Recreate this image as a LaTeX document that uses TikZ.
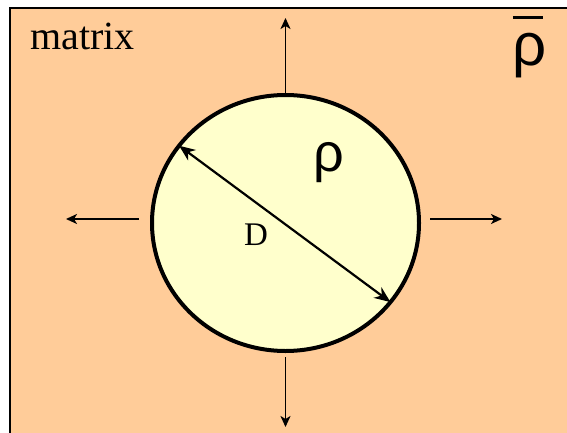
\documentclass[tikz,border=0pt]{standalone}
\usepackage{fontspec}
\setmainfont{Liberation Serif}
\newfontfamily\sansrho{Liberation Sans}
\usetikzlibrary{arrows.meta,shapes.geometric}
\definecolor{matrixfill}{HTML}{FFCC99}
\definecolor{inclfill}{HTML}{FFFFCC}
\tikzset{
  outarrow/.style={line width=1.8pt,-{Stealth[length=11pt,width=10pt,inset=3pt]}},
  diamarrow/.style={line width=2.2pt,{Stealth[length=16pt,width=13pt,inset=5pt]}-{Stealth[length=16pt,width=13pt,inset=5pt]}},
}
\begin{document}
\begin{tikzpicture}[x=1pt,y=-1pt]
\useasboundingbox (0,0) rectangle (567,433);
\clip (0,0) rectangle (567,433);
\draw[line width=2.5pt, fill=matrixfill] (10,8) rectangle (600,460);
\node[draw, line width=4pt, fill=inclfill, ellipse, minimum width=267pt, minimum height=256pt, inner sep=0pt] (c) at (285.5,223) {};
\node[anchor=base west, font=\fontsize{40}{44}\selectfont, inner sep=0pt] (mx) at (30,50) {matrix};
\node[anchor=base, font=\sansrho\fontsize{60}{64}\selectfont, inner sep=0pt] (rb) at (530,66) {\rlap{\raisebox{0.78em}{\rule{0.5em}{0.045em}}}ρ};
\node[anchor=base, font=\sansrho\fontsize{54}{58}\selectfont, inner sep=0pt] (r) at (329,171) {ρ};
\node[anchor=base, font=\fontsize{33}{36}\selectfont, inner sep=0pt] (d) at (256,245) {D};
\coordinate (tt) at (285.5,18);
\coordinate (bs) at (285.5,357);
\coordinate (bt) at (285.5,427);
\coordinate (ls) at (139,219);
\coordinate (lt) at (66,219);
\coordinate (rs) at (430,219);
\coordinate (rt) at (502,219);
\draw[outarrow] (c.north) -- (tt);
\draw[outarrow] (bs) -- (bt);
\draw[outarrow] (ls) -- (lt);
\draw[outarrow] (rs) -- (rt);
\draw[diamarrow, shorten <=2pt, shorten >=2pt] (c.144) -- (c.-37);
\end{tikzpicture}
\end{document}
